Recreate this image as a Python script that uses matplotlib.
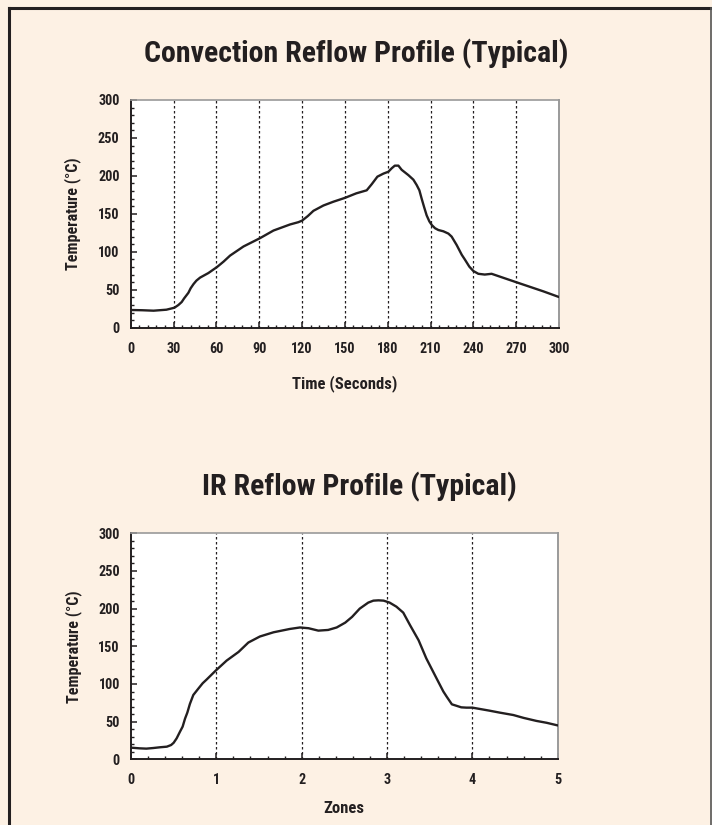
import matplotlib
matplotlib.use("Agg")
import matplotlib.pyplot as plt
from matplotlib.ticker import MultipleLocator
from matplotlib import font_manager as fm
from matplotlib.font_manager import FontProperties

# ---- data ----
conv_time = [0, 8, 16, 25, 30.6, 33.4, 35.7, 37.4, 40.4, 42, 44, 46, 48.6, 54.4, 60.5,
             65, 69.6, 79, 90.6, 100, 111.6, 117.4, 120, 124, 128, 135, 142, 150, 158,
             165.3, 168.8, 172.8, 177, 180.5, 182.8, 185, 187.5, 189.8, 194.5, 198,
             200.3, 202.2, 203.8, 205.5, 207.3, 209.2, 211, 213.2, 215.5, 219, 222.5,
             224.8, 228.3, 231.9, 234, 237.2, 240, 243.5, 248, 252.8, 270.4, 289, 300]
conv_temp = [23.3, 23, 22.4, 23.7, 26.3, 29.9, 33.8, 38.6, 46, 52, 57.5, 62, 66, 72, 80,
             87, 95, 107, 118, 128, 136, 139, 141, 147, 154, 161, 166, 171, 177,
             181, 189, 199, 203, 205.5, 210, 213.5, 213.5, 208, 201, 195,
             188, 181, 170, 159, 148, 140, 135, 131, 128.7, 127, 124,
             120, 109, 96, 90, 80.4, 74.7, 71, 70, 71, 59.7, 47.9, 40.4]

ir_zone = [0, 0.1, 0.18, 0.26, 0.34, 0.42, 0.47, 0.50, 0.535, 0.574, 0.605, 0.633, 0.66,
           0.69, 0.73, 0.79, 0.84, 0.887, 0.992, 1.12, 1.26, 1.375, 1.51, 1.67, 1.86,
           1.98, 2.08, 2.195, 2.31, 2.41, 2.51, 2.59, 2.68, 2.78, 2.84, 2.90, 2.96,
           3.03, 3.11, 3.19, 3.27, 3.37, 3.46, 3.58, 3.66, 3.70, 3.76, 3.81, 3.87,
           3.93, 4.0, 4.2, 4.32, 4.48, 4.6, 4.75, 4.87, 5.0]
ir_temp = [15.5, 14.6, 14.2, 15, 16, 16.8, 19, 22, 27.9, 36.7, 43.4, 54, 62,
           73.5, 85.4, 94, 101, 106, 117.7, 131, 142.5, 155, 163, 168.6, 173,
           175, 174, 170.8, 171.7, 175, 181.4, 189, 200, 208, 210.6, 211, 210.6,
           208, 202.6, 194.7, 178, 158, 134, 107.5, 90, 83, 73, 71.2, 69,
           68.6, 68.6, 64.6, 62, 58.8, 55, 51, 48.5, 45]

conv_xticks = [0, 30, 60, 90, 120, 150, 180, 210, 240, 270, 300]
ir_xticks = [0, 1, 2, 3, 4, 5]
y_ticks = [0, 50, 100, 150, 200, 250, 300]

title1 = "Convection Reflow Profile (Typical)"
title2 = "IR Reflow Profile (Typical)"
xlabel1 = "Time (Seconds)"
xlabel2 = "Zones"
ylabel = "Temperature (°C)"

BG = "#FDF1E4"
INK = "#231F20"


# ---- pick a bold condensed sans font if one is installed ----
def _w(v):
    if isinstance(v, str):
        return fm.weight_dict.get(v, 400)
    return v


def _s(v):
    if isinstance(v, str):
        return fm.stretch_dict.get(v, 500)
    return v


def pick_font():
    entries = fm.fontManager.ttflist
    prefs = ["Liberation Sans Narrow", "Roboto Condensed", "Open Sans Condensed",
             "Noto Sans Condensed", "DejaVu Sans Condensed", "Arial Narrow"]
    for p in prefs:
        for e in entries:
            if e.name == p and _w(e.weight) >= 600 and e.style == 'normal':
                return e.fname, 1.0
    for fam in ["Noto Sans", "Roboto", "Open Sans", "DejaVu Sans", "Liberation Sans", "Inter", "Lato"]:
        for e in entries:
            if (e.name == fam and _w(e.weight) >= 600 and _w(e.weight) <= 750
                    and _s(e.stretch) <= 400 and e.style == 'normal'):
                return e.fname, 1.0
    for e in entries:
        n = e.name.lower()
        if (("condensed" in n or "narrow" in n) and _w(e.weight) >= 600
                and e.style == 'normal'):
            return e.fname, 1.0
    return None, 0.88


FONT_FILE, SCALE = pick_font()


def fp(size):
    if FONT_FILE:
        return FontProperties(fname=FONT_FILE, size=size)
    return FontProperties(family="DejaVu Sans", weight="bold", size=size * SCALE)


fig = plt.figure(figsize=(7.12, 8.25), dpi=100, facecolor=BG)

# outer frame (top, left, right)
fig.add_artist(plt.Line2D([9/712, 711/712], [1-8/825, 1-8/825], transform=fig.transFigure,
                          color=INK, lw=2.2))
fig.add_artist(plt.Line2D([9/712, 9/712], [0, 1-8/825], transform=fig.transFigure,
                          color=INK, lw=2.2))
fig.add_artist(plt.Line2D([710.5/712, 710.5/712], [0, 1-8/825], transform=fig.transFigure,
                          color="#555555", lw=1.2))


def style_axes(ax, xticks, minor_x, xlim):
    ax.set_facecolor("white")
    ax.set_xlim(*xlim)
    ax.set_ylim(0, 300)
    ax.set_xticks(xticks)
    ax.set_yticks(y_ticks)
    ax.xaxis.set_minor_locator(MultipleLocator(minor_x))
    ax.yaxis.set_minor_locator(MultipleLocator(10))
    ax.tick_params(which='both', direction='in', top=False, right=False, color=INK,
                   labelcolor=INK)
    ax.tick_params(which='major', length=4, width=1.1)
    ax.tick_params(which='minor', length=2.5, width=1.0)
    ax.tick_params(axis='x', pad=10)
    ax.tick_params(axis='y', pad=8)
    for lab in ax.get_xticklabels() + ax.get_yticklabels():
        lab.set_fontproperties(fp(10.2))
    ax.spines['left'].set_color(INK)
    ax.spines['bottom'].set_color(INK)
    ax.spines['left'].set_linewidth(1.4)
    ax.spines['bottom'].set_linewidth(1.4)
    ax.spines['top'].set_color("#9a9a9a")
    ax.spines['right'].set_color("#9a9a9a")
    ax.spines['top'].set_linewidth(1.2)
    ax.spines['right'].set_linewidth(1.4)
    for xv in xticks[1:-1]:
        ax.axvline(xv, color=INK, lw=0.9, ls=(0, (2, 2)), zorder=1)
    ax.set_ylabel(ylabel, fontproperties=fp(11.6), color=INK, labelpad=12)


ax1 = fig.add_axes([0.1836, 0.6028, 0.6015, 0.276])
style_axes(ax1, conv_xticks, 6, (0, 300))
ax1.plot(conv_time, conv_temp, color=INK, lw=1.7, zorder=3, solid_joinstyle='round',
         solid_capstyle='round')
ax1.set_xlabel(xlabel1, fontproperties=fp(12), color=INK, labelpad=14)

ax2 = fig.add_axes([0.184, 0.0796, 0.5993, 0.274])
style_axes(ax2, ir_xticks, 0.2, (0, 5))
ax2.plot(ir_zone, ir_temp, color=INK, lw=1.7, zorder=3, solid_joinstyle='round',
         solid_capstyle='round')
ax2.set_xlabel(xlabel2, fontproperties=fp(12), color=INK, labelpad=10)

fig.text(0.5, 1-62/825, title1, ha='center', va='baseline', fontproperties=fp(21.5),
         color=INK)
fig.text(0.505, 1-495/825, title2, ha='center', va='baseline', fontproperties=fp(21.5),
         color=INK)

fig.savefig("out.png", dpi=100, facecolor=BG)
